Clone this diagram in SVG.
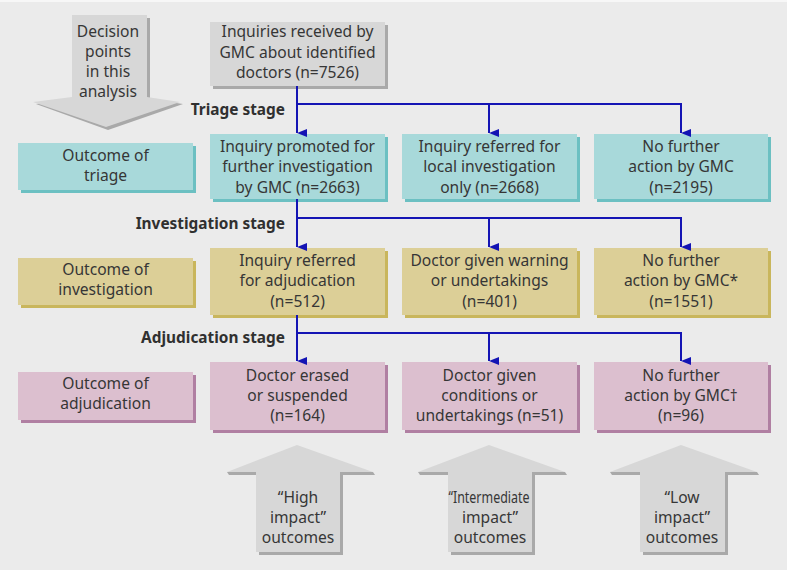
<svg xmlns="http://www.w3.org/2000/svg" width="787" height="570" viewBox="0 0 787 570">
<defs>
<style>
text{font-family:"Noto Sans","Open Sans",sans-serif;font-size:15.6px;fill:#363636;text-anchor:middle}
.stage{font-weight:bold;font-size:15.4px;text-anchor:end;fill:#303030}
.gray{fill:#d7d7d7}.grays{fill:#a9a9a9}
.teal{fill:#a8d9da}.teals{fill:#6cc0c2}
.tan{fill:#dccf97}.tans{fill:#c9b65c}
.pink{fill:#dcbfcf}.pinks{fill:#b07fa2}
.conn{stroke:#1414b4;stroke-width:2;fill:none}
</style>
<marker id="ah" viewBox="0 0 8 10" refX="4" refY="10" markerWidth="8" markerHeight="10" markerUnits="userSpaceOnUse" orient="auto-start-reverse">
<path d="M0,0 L8,0 L4,10 Z" fill="#1414b4"/>
</marker>
</defs>
<rect x="0" y="0" width="787" height="570" fill="#ebebeb"/>
<rect x="0" y="0" width="787" height="2" fill="#f7f7f7"/>

<g id="decision-arrow">
<polygon class="grays" points="150,18 150,99 183,104 108,130 36,104 75,99 75,18"/>
<polygon class="gray" points="72,15 147,15 147,97 180,102 106,127 33,102 72,97"/>
<text x="108" y="37">Decision</text>
<text x="108" y="57">points</text>
<text x="108" y="77">in this</text>
<text x="108" y="97">analysis</text>
</g>

<g id="top-box">
<rect class="grays" x="213" y="25" width="175" height="64"/>
<rect class="gray" x="210" y="22" width="175" height="64"/>
<text x="297.5" y="37">Inquiries received by</text>
<text x="297.5" y="58">GMC about identified</text>
<text x="297.5" y="78">doctors (n=7526)</text>
</g>

<g id="triage-label">
<rect class="teals" x="21" y="146" width="175" height="47"/>
<rect class="teal" x="18" y="143" width="175" height="47"/>
<text x="105.5" y="161">Outcome of</text>
<text x="105.5" y="181">triage</text>
</g>
<g id="triage-1">
<rect class="teals" x="213" y="137" width="175" height="65"/>
<rect class="teal" x="210" y="134" width="175" height="65"/>
<text x="297.5" y="152">Inquiry promoted for</text>
<text x="297.5" y="172">further investigation</text>
<text x="297.5" y="193">by GMC (n=2663)</text>
</g>
<g id="triage-2">
<rect class="teals" x="405" y="137" width="175" height="65"/>
<rect class="teal" x="402" y="134" width="175" height="65"/>
<text x="489.5" y="152">Inquiry referred for</text>
<text x="489.5" y="172">local investigation</text>
<text x="489.5" y="193">only (n=2668)</text>
</g>
<g id="triage-3">
<rect class="teals" x="597" y="137" width="174" height="65"/>
<rect class="teal" x="594" y="134" width="174" height="65"/>
<text x="681" y="152">No further</text>
<text x="681" y="172">action by GMC</text>
<text x="681" y="193">(n=2195)</text>
</g>

<g id="investigation-label">
<rect class="tans" x="21" y="261" width="175" height="47"/>
<rect class="tan" x="18" y="258" width="175" height="47"/>
<text x="105.5" y="275">Outcome of</text>
<text x="105.5" y="295">investigation</text>
</g>
<g id="inv-1">
<rect class="tans" x="213" y="251" width="175" height="67"/>
<rect class="tan" x="210" y="248" width="175" height="67"/>
<text x="297.5" y="266">Inquiry referred</text>
<text x="297.5" y="286">for adjudication</text>
<text x="297.5" y="307">(n=512)</text>
</g>
<g id="inv-2">
<rect class="tans" x="405" y="251" width="175" height="67"/>
<rect class="tan" x="402" y="248" width="175" height="67"/>
<text x="489.5" y="266">Doctor given warning</text>
<text x="489.5" y="286">or undertakings</text>
<text x="489.5" y="307">(n=401)</text>
</g>
<g id="inv-3">
<rect class="tans" x="597" y="251" width="174" height="67"/>
<rect class="tan" x="594" y="248" width="174" height="67"/>
<text x="681" y="266">No further</text>
<text x="681" y="286">action by GMC*</text>
<text x="681" y="307">(n=1551)</text>
</g>

<g id="adjudication-label">
<rect class="pinks" x="21" y="375" width="175" height="48"/>
<rect class="pink" x="18" y="372" width="175" height="48"/>
<text x="105.5" y="389">Outcome of</text>
<text x="105.5" y="409">adjudication</text>
</g>
<g id="adj-1">
<rect class="pinks" x="213" y="365" width="175" height="68"/>
<rect class="pink" x="210" y="362" width="175" height="68"/>
<text x="297.5" y="381">Doctor erased</text>
<text x="297.5" y="401">or suspended</text>
<text x="297.5" y="421">(n=164)</text>
</g>
<g id="adj-2">
<rect class="pinks" x="405" y="365" width="175" height="68"/>
<rect class="pink" x="402" y="362" width="175" height="68"/>
<text x="489.5" y="381">Doctor given</text>
<text x="489.5" y="401">conditions or</text>
<text x="489.5" y="421">undertakings (n=51)</text>
</g>
<g id="adj-3">
<rect class="pinks" x="597" y="365" width="174" height="68"/>
<rect class="pink" x="594" y="362" width="174" height="68"/>
<text x="681" y="381">No further</text>
<text x="681" y="401">action by GMC†</text>
<text x="681" y="421">(n=96)</text>
</g>

<g id="connectors">
<path class="conn" d="M297,86 V133" marker-end="url(#ah)"/>
<path class="conn" d="M297,104 H681 V133" marker-end="url(#ah)"/>
<path class="conn" d="M489,104 V133" marker-end="url(#ah)"/>
<path class="conn" d="M297,199 V247" marker-end="url(#ah)"/>
<path class="conn" d="M297,218 H681 V247" marker-end="url(#ah)"/>
<path class="conn" d="M489,218 V247" marker-end="url(#ah)"/>
<path class="conn" d="M297,315 V361" marker-end="url(#ah)"/>
<path class="conn" d="M297,333 H681 V361" marker-end="url(#ah)"/>
<path class="conn" d="M489,333 V361" marker-end="url(#ah)"/>
</g>
<g id="stage-labels">
<text class="stage" x="285" y="115">Triage stage</text>
<text class="stage" x="285" y="229">Investigation stage</text>
<text class="stage" x="285" y="343">Adjudication stage</text>
</g>

<g id="high-impact">
<polygon class="grays" points="229,475 259,475 259,555 343,555 343,475 375,475 373,472 227,472"/>
<polygon class="gray" points="297,445 373,472 340,472 340,552 256,552 256,472 227,472"/>
<text x="298" y="503">“High</text>
<text x="298" y="523">impact”</text>
<text x="298" y="543">outcomes</text>
</g>
<g id="intermediate-impact">
<polygon class="grays" points="420,475 451,475 451,555 535,555 535,475 567,475 565,472 418,472"/>
<polygon class="gray" points="489,445 565,472 532,472 532,552 448,552 448,472 418,472"/>
<text x="489" y="503" textLength="81" lengthAdjust="spacingAndGlyphs">“Intermediate</text>
<text x="490" y="523">impact”</text>
<text x="490" y="543">outcomes</text>
</g>
<g id="low-impact">
<polygon class="grays" points="612,475 643,475 643,555 728,555 728,475 759,475 757,472 610,472"/>
<polygon class="gray" points="681,445 757,472 725,472 725,552 640,552 640,472 610,472"/>
<text x="682" y="503">“Low</text>
<text x="682" y="523">impact”</text>
<text x="682" y="543">outcomes</text>
</g>
</svg>
